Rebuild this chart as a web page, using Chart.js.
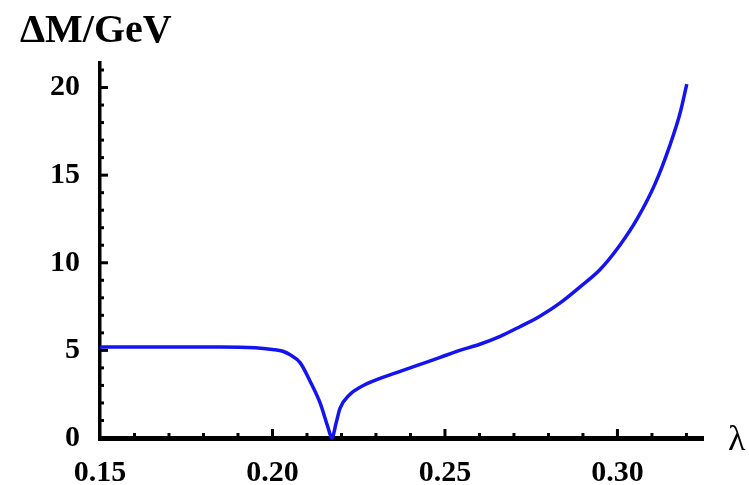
<!DOCTYPE html>
<html>
<head>
<meta charset="utf-8">
<script src="https://cdn.jsdelivr.net/npm/chart.js@4.4.1/dist/chart.umd.min.js"></script>
<style>
  html, body { margin: 0; padding: 0; background: #fff; }
  #wrap { width: 749px; height: 485px; }
</style>
</head>
<body>
<div id="wrap"><canvas id="massChart" width="749" height="485"></canvas></div>
<script>
// ==========================================
// DATA
// ==========================================
const lambdaVals = [0.150, 0.170, 0.185, 0.195, 0.200, 0.203, 0.2051, 0.208, 0.211, 0.2138, 0.2161, 0.2172,
                    0.2185, 0.2196, 0.2225, 0.2254, 0.2312, 0.2370, 0.2428, 0.2486, 0.2543, 0.2601, 0.2660,
                    0.2717, 0.2775, 0.2833, 0.2890, 0.2949, 0.3007, 0.3057, 0.3109, 0.3152, 0.3181, 0.3201];
const deltaM = [5.2, 5.2, 5.2, 5.15, 5.05, 4.95, 4.75, 4.3, 3.2, 2.0, 0.6, 0.0,
                0.9, 1.7, 2.5, 2.9, 3.4, 3.8, 4.2, 4.6, 5.0, 5.35, 5.8,
                6.35, 6.95, 7.7, 8.6, 9.6, 11.0, 12.5, 14.5, 16.7, 18.5, 20.2];
const xTickLabels = ['0.15', '0.20', '0.25', '0.30'];
const yTickLabels = ['0', '5', '10', '15', '20'];

const points = lambdaVals.map((x, i) => ({ x: x, y: deltaM[i] }));
const SERIF = '"Liberation Serif", "DejaVu Serif", serif';

// inward tick marks + axis captions (Mathematica style)
const inwardTicks = {
    id: 'inwardTicks',
    afterDraw(chart) {
        const ctx = chart.ctx;
        const xs = chart.scales.x, ys = chart.scales.y;
        const area = chart.chartArea;
        ctx.save();
        ctx.strokeStyle = '#000';
        ctx.lineWidth = 3;
        xs.ticks.forEach(t => {
            const px = xs.getPixelForValue(t.value);
            const major = Math.round(t.value * 100) % 5 === 0;
            if (px <= area.left + 2) return;
            ctx.beginPath();
            ctx.moveTo(px, area.bottom);
            ctx.lineTo(px, area.bottom - (major ? 9 : 5));
            ctx.stroke();
        });
        ys.ticks.forEach(t => {
            const py = ys.getPixelForValue(t.value);
            const major = Math.round(t.value) % 5 === 0;
            if (py >= area.bottom - 2) return;
            ctx.beginPath();
            ctx.moveTo(area.left, py);
            ctx.lineTo(area.left + (major ? 8 : 4), py);
            ctx.stroke();
        });
        ctx.fillStyle = '#000';
        ctx.textBaseline = 'alphabetic';
        ctx.textAlign = 'left';
        ctx.font = 'bold 40px ' + SERIF;
        ctx.fillText('ΔM/GeV', 20, 42);
        ctx.font = '36px ' + SERIF;
        ctx.fillText('λ', 728, 450);
        ctx.restore();
    }
};

new Chart(document.getElementById('massChart'), {
    type: 'line',
    data: {
        datasets: [{
            data: points,
            borderColor: 'rgb(20,20,240)',
            borderWidth: 3.5,
            pointRadius: 0,
            fill: false,
            cubicInterpolationMode: 'monotone',
            clip: false
        }]
    },
    options: {
        responsive: false,
        animation: false,
        layout: { padding: { top: 63, right: 46, left: 0, bottom: 0 } },
        plugins: { legend: { display: false }, tooltip: { enabled: false } },
        scales: {
            x: {
                type: 'linear',
                min: 0.15,
                max: 0.3248,
                afterFit: s => { s.height = 47; },
                grid: { display: false },
                border: { display: true, color: '#000', width: 5 },
                ticks: {
                    stepSize: 0.01,
                    includeBounds: false,
                    autoSkip: false,
                    maxRotation: 0,
                    padding: 9,
                    color: '#000',
                    font: { family: SERIF, size: 30, weight: 'bold' },
                    callback: v => {
                        const lbl = v.toFixed(2);
                        return xTickLabels.includes(lbl) ? lbl : '';
                    }
                }
            },
            y: {
                type: 'linear',
                min: 0,
                max: 21.4,
                afterFit: s => { s.width = 100; },
                grid: { display: false },
                border: { display: true, color: '#000', width: 3.5 },
                ticks: {
                    stepSize: 1,
                    includeBounds: false,
                    autoSkip: false,
                    padding: 12,
                    color: '#000',
                    font: { family: SERIF, size: 30, weight: 'bold' },
                    callback: v => {
                        const lbl = String(Math.round(v));
                        return (Math.abs(v - Math.round(v)) < 1e-6 && yTickLabels.includes(lbl)) ? lbl : '';
                    }
                }
            }
        }
    },
    plugins: [inwardTicks]
});
</script>
</body>
</html>
